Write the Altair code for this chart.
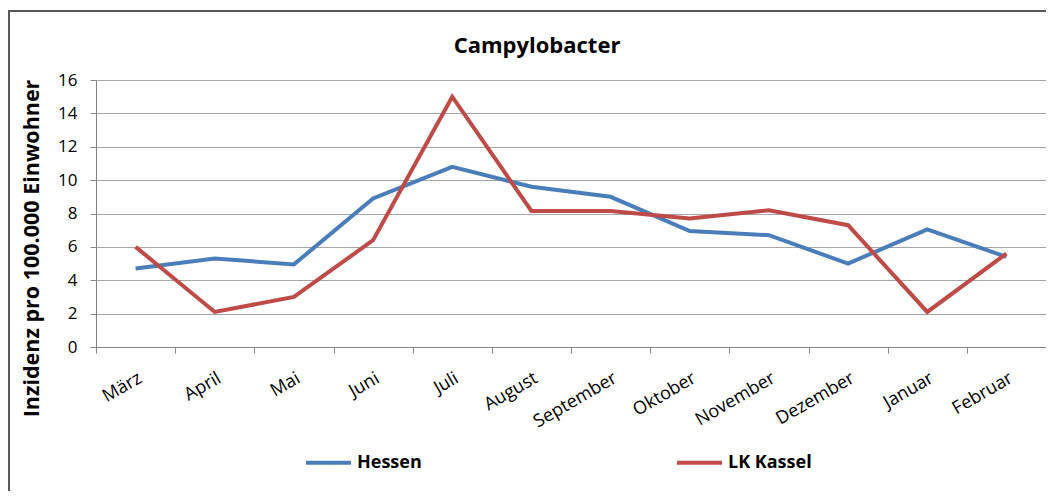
import altair as alt
import pandas as pd

months = ["März", "April", "Mai", "Juni", "Juli", "August", "September",
          "Oktober", "November", "Dezember", "Januar", "Februar"]
hessen = [4.7, 5.3, 4.95, 8.9, 10.8, 9.6, 9.0, 6.95, 6.7, 5.0, 7.05, 5.4]
kassel = [6.0, 2.1, 3.0, 6.4, 15.0, 8.15, 8.15, 7.7, 8.2, 7.3, 2.1, 5.6]
series = ["Hessen", "LK Kassel"]
colors = ["#4A7EBB", "#BE4B48"]
y_ticks = [0, 2, 4, 6, 8, 10, 12, 14, 16]

rows = []
for m, h, k in zip(months, hessen, kassel):
    rows.append({"Monat": m, "Region": series[0], "Wert": h})
    rows.append({"Monat": m, "Region": series[1], "Wert": k})
df = pd.DataFrame(rows)

FONT = "Open Sans"

lines = alt.Chart(df).mark_line(strokeWidth=4, strokeJoin="miter").encode(
    x=alt.X("Monat:N", sort=months, title=None,
            scale=alt.Scale(paddingInner=0, paddingOuter=0),
            axis=alt.Axis(labelAngle=-30, labelAlign="right", labelBaseline="top",
                          labelFontSize=18, labelColor="#000000", labelFont=FONT,
                          labelPadding=16, tickSize=6, tickBand="extent",
                          tickColor="#868686", domainColor="#868686", grid=False,
                          labelOverlap=False)),
    y=alt.Y("Wert:Q", title="Inzidenz pro 100.000 Einwohner",
            scale=alt.Scale(domain=[0, 16], nice=False),
            axis=alt.Axis(values=y_ticks, labelFontSize=17, labelColor="#000000",
                          labelFont=FONT, tickSize=6, labelPadding=13,
                          tickColor="#868686", domainColor="#868686",
                          gridColor="#A6A6A6", titleFont=FONT, titleFontSize=21.5,
                          titleFontWeight="bold", titleColor="#000000",
                          titleX=-53, titleY=168)),
    color=alt.Color("Region:N", scale=alt.Scale(domain=series, range=colors),
                    legend=alt.Legend(title=None, orient="none", direction="horizontal",
                                      legendX=208, legendY=358, symbolType="stroke",
                                      symbolSize=2025, symbolStrokeWidth=4,
                                      labelFontSize=18, labelFontWeight="bold",
                                      labelFont=FONT, labelColor="#000000",
                                      labelOffset=4, columnPadding=247, padding=0))
)

frame = alt.Chart(pd.DataFrame({"a": [0]})).mark_rect(
    fill=None, stroke="#595959", strokeWidth=2
).encode(
    x=alt.value(-87), y=alt.value(-69), x2=alt.value(1200), y2=alt.value(700)
)

chart = alt.layer(frame, lines).properties(
    width=950, height=267,
    title=alt.TitleParams("Campylobacter", font=FONT, fontSize=22, fontWeight="bold",
                          color="#000000", anchor="middle", frame="group", dx=-34,
                          offset=20, dy=68),
    autosize=alt.AutoSizeParams(type="none"),
    padding={"left": 88, "top": 72, "right": 0, "bottom": 144},
).configure_view(stroke=None).configure(background="white")

chart.save("out.html", embed_options={"renderer": "svg", "actions": False})
